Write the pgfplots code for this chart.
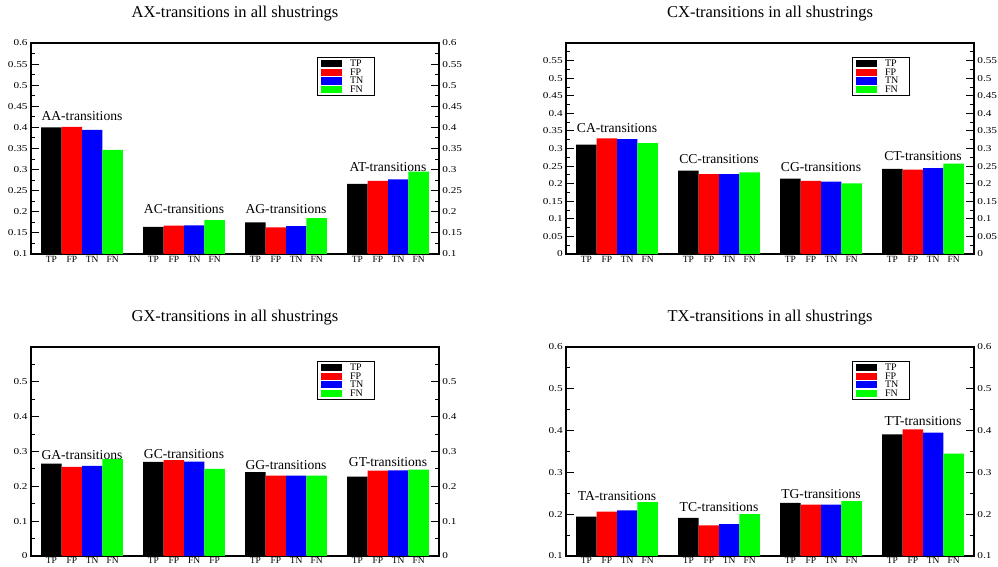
\documentclass[border=0pt]{standalone}
\usepackage{fontspec}
\setmainfont{Liberation Serif}
\usepackage{pgfplots}
\pgfplotsset{compat=1.18}
\definecolor{cTP}{RGB}{0,0,0}
\definecolor{cFP}{RGB}{255,0,0}
\definecolor{cTN}{RGB}{0,0,255}
\definecolor{cFN}{RGB}{0,255,0}
\pgfplotsset{
  panel/.style={
    scale only axis, width=408pt, height=211pt, anchor=south west,
    xmin=0, xmax=20,
    xtick={1,2,3,4,6,7,8,9,11,12,13,14,16,17,18,19},
    major x tick style={draw=none},
    tick align=inside,
    yticklabel pos=left,
    ytick pos=both,
    major tick length=8pt, minor tick length=4pt,
    /pgf/number format/assume math mode=true,
    /pgf/number format/fixed, /pgf/number format/precision=3,
    scaled y ticks=false,
    yticklabel style={font=\fontsize{9}{9}\selectfont, xscale=1.25, inner xsep=2.5pt},
    xticklabel style={font=\fontsize{9.5}{10}\selectfont, inner sep=2pt},
    axis line style={line width=1.1pt},
    every tick/.style={line width=0.9pt, black},
    title style={at={(0.5,1)}, anchor=base, yshift=19pt, font=\fontsize{16.5}{18}\selectfont},
    legend style={at={(0.701,0.934)}, anchor=north west, draw=black, line width=1.1pt,
      font=\fontsize{10}{10}\selectfont, row sep=0pt, inner xsep=3pt, inner ysep=2pt,
      nodes={inner ysep=0.8pt, inner xsep=8.5pt, text height=6.4pt, text depth=0.6pt}},
    legend cell align=left,
    legend image code/.code={\fill[##1] (0pt,-3.6pt) rectangle (21pt,3.6pt);},
  },
  bottompanel/.style={height=209pt, xticklabel style={inner sep=0.8pt}},
  rpanel/.style={
    scale only axis, width=408pt, height=211pt, anchor=south west,
    xmin=0, xmax=20, hide x axis,
    axis y line*=right,
    y axis line style={draw=none},
    ytick style={draw=none},
    /pgf/number format/assume math mode=true,
    /pgf/number format/fixed, /pgf/number format/precision=3,
    scaled y ticks=false,
    yticklabel style={font=\fontsize{9}{9}\selectfont, xscale=1.25, inner xsep=2.5pt},
  },
  bTP/.style={ybar, bar width=1, bar shift=0pt, fill=cTP, draw=none},
  bFP/.style={ybar, bar width=1, bar shift=0pt, fill=cFP, draw=none},
  bTN/.style={ybar, bar width=1, bar shift=0pt, fill=cTN, draw=none},
  bFN/.style={ybar, bar width=1, bar shift=0pt, fill=cFN, draw=none},
}
\newcommand{\glab}{\fontsize{13.6}{14}\selectfont}
\begin{document}
\begin{tikzpicture}
\path[use as bounding box] (0pt,0pt) rectangle (998pt,567pt);
% ---------------- Panel 1: AX
\begin{axis}[panel, at={(31pt,313pt)}, ymin=0.1, ymax=0.6,
  ytick={0.1,0.15,0.2,0.25,0.3,0.35,0.4,0.45,0.5,0.55,0.6},
  minor ytick={0.125,0.175,0.225,0.275,0.325,0.375,0.425,0.475,0.525,0.575},
  xticklabels={TP,FP,TN,FN,TP,FP,TN,FN,TP,FP,TN,FN,TP,FP,TN,FN},
  title={AX-transitions in all shustrings}]
\addplot[bTP] coordinates {(1,0.400) (6,0.164) (11,0.175) (16,0.266)};
\addplot[bFP] coordinates {(2,0.401) (7,0.167) (12,0.163) (17,0.273)};
\addplot[bTN] coordinates {(3,0.394) (8,0.168) (13,0.166) (18,0.277)};
\addplot[bFN] coordinates {(4,0.347) (9,0.180) (14,0.185) (19,0.295)};
\legend{TP,FP,TN,FN}
\node[font=\glab] at (axis cs:2.5,0.428) {AA-transitions};
\node[font=\glab] at (axis cs:7.5,0.2076) {AC-transitions};
\node[font=\glab] at (axis cs:12.5,0.2076) {AG-transitions};
\node[font=\glab] at (axis cs:17.5,0.307) {AT-transitions};
\end{axis}
\begin{axis}[rpanel, at={(31pt,313pt)}, ymin=0.1, ymax=0.6,
  ytick={0.1,0.15,0.2,0.25,0.3,0.35,0.4,0.45,0.5,0.55,0.6}]
\end{axis}
% ---------------- Panel 2: CX
\begin{axis}[panel, at={(566pt,313pt)}, ymin=0, ymax=0.6,
  ytick={0,0.05,0.1,0.15,0.2,0.25,0.3,0.35,0.4,0.45,0.5,0.55},
  minor ytick={0.025,0.075,0.125,0.175,0.225,0.275,0.325,0.375,0.425,0.475,0.525,0.575},
  xticklabels={TP,FP,TN,FN,TP,FP,TN,FN,TP,FP,TN,FN,TP,FP,TN,FN},
  title={CX-transitions in all shustrings}]
\addplot[bTP] coordinates {(1,0.311) (6,0.237) (11,0.214) (16,0.242)};
\addplot[bFP] coordinates {(2,0.329) (7,0.227) (12,0.208) (17,0.240)};
\addplot[bTN] coordinates {(3,0.327) (8,0.227) (13,0.206) (18,0.244)};
\addplot[bFN] coordinates {(4,0.315) (9,0.232) (14,0.201) (19,0.257)};
\legend{TP,FP,TN,FN}
\node[font=\glab] at (axis cs:2.5,0.357) {CA-transitions};
\node[font=\glab] at (axis cs:7.5,0.271) {CC-transitions};
\node[font=\glab] at (axis cs:12.5,0.248) {CG-transitions};
\node[font=\glab] at (axis cs:17.5,0.279) {CT-transitions};
\end{axis}
\begin{axis}[rpanel, at={(566pt,313pt)}, ymin=0, ymax=0.6,
  ytick={0,0.05,0.1,0.15,0.2,0.25,0.3,0.35,0.4,0.45,0.5,0.55}]
\end{axis}
% ---------------- Panel 3: GX
\begin{axis}[panel, bottompanel, at={(31pt,11pt)}, ymin=0, ymax=0.6,
  ytick={0,0.1,0.2,0.3,0.4,0.5},
  minor ytick={0.05,0.15,0.25,0.35,0.45,0.55},
  xticklabels={TP,FP,TN,FN,TP,FP,FN,FP,TP,FP,TN,FN,TP,FP,TN,FN},
  title={GX-transitions in all shustrings}]
\addplot[bTP] coordinates {(1,0.265) (6,0.270) (11,0.241) (16,0.228)};
\addplot[bFP] coordinates {(2,0.256) (7,0.275) (12,0.231) (17,0.245)};
\addplot[bTN] coordinates {(3,0.259) (8,0.271) (13,0.231) (18,0.246)};
\addplot[bFN] coordinates {(4,0.278) (9,0.250) (14,0.231) (19,0.248)};
\legend{TP,FP,TN,FN}
\node[font=\glab] at (axis cs:2.5,0.290) {GA-transitions};
\node[font=\glab] at (axis cs:7.5,0.292) {GC-transitions};
\node[font=\glab] at (axis cs:12.5,0.262) {GG-transitions};
\node[font=\glab] at (axis cs:17.5,0.270) {GT-transitions};
\end{axis}
\begin{axis}[rpanel, at={(31pt,11pt)}, height=209pt, ymin=0, ymax=0.6,
  ytick={0,0.1,0.2,0.3,0.4,0.5}]
\end{axis}
% ---------------- Panel 4: TX
\begin{axis}[panel, bottompanel, at={(566pt,11pt)}, ymin=0.1, ymax=0.6,
  ytick={0.1,0.2,0.3,0.4,0.5,0.6},
  minor ytick={0.15,0.25,0.35,0.45,0.55},
  xticklabels={TP,FP,TN,FN,TP,FP,TN,FN,TP,FP,TN,FN,TP,FP,TN,FN},
  title={TX-transitions in all shustrings}]
\addplot[bTP] coordinates {(1,0.194) (6,0.191) (11,0.227) (16,0.391)};
\addplot[bFP] coordinates {(2,0.206) (7,0.173) (12,0.223) (17,0.403)};
\addplot[bTN] coordinates {(3,0.209) (8,0.176) (13,0.223) (18,0.395)};
\addplot[bFN] coordinates {(4,0.229) (9,0.200) (14,0.231) (19,0.345)};
\legend{TP,FP,TN,FN}
\node[font=\glab] at (axis cs:2.5,0.2425) {TA-transitions};
\node[font=\glab] at (axis cs:7.5,0.217) {TC-transitions};
\node[font=\glab] at (axis cs:12.5,0.249) {TG-transitions};
\node[font=\glab] at (axis cs:17.5,0.423) {TT-transitions};
\end{axis}
\begin{axis}[rpanel, at={(566pt,11pt)}, height=209pt, ymin=0.1, ymax=0.6,
  ytick={0.1,0.2,0.3,0.4,0.5,0.6}]
\end{axis}
\end{tikzpicture}
\end{document}
